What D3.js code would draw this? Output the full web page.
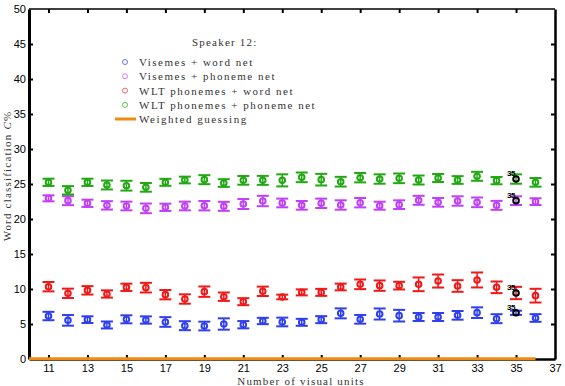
<!DOCTYPE html>
<html lang="en">
<head>
    <meta charset="UTF-8">
    <title>Speaker 12 word classification</title>
    <script src="https://d3js.org/d3.v7.min.js"></script>
    <style>
        body { margin: 0; background: #fff; }
        .tick text { font-family: "Liberation Sans", Arial, sans-serif; font-size: 11px; fill: #000; }
        .serif { font-family: "Liberation Serif", "DejaVu Serif", serif; fill: #333; }
    </style>
</head>
<body>
<div id="chart"></div>
<script>
// x positions (number of visual units)
const units = [11,12,13,14,15,16,17,18,19,20,21,22,23,24,25,26,27,28,29,30,31,32,33,34,35,36];

// means and half error bars
const visWordMean = [6.14,5.52,5.62,4.86,5.67,5.57,5.29,4.76,4.71,5.0,4.9,5.43,5.29,5.24,5.62,6.52,5.67,6.43,6.19,6.0,6.0,6.24,6.62,5.76,6.6,5.86];
const visWordErr  = [0.6,0.76,0.48,0.5,0.57,0.52,0.69,0.64,0.62,0.81,0.52,0.45,0.62,0.5,0.5,0.71,0.62,0.79,0.83,0.57,0.57,0.62,0.76,0.64,0.3,0.55];

const visPhonMean = [22.95,22.62,22.24,21.95,21.86,21.52,21.67,21.86,21.9,21.81,22.14,22.57,22.29,21.95,22.24,22.0,22.33,21.9,22.05,22.67,22.38,22.57,22.38,21.95,22.62,22.48];
const visPhonErr  = [0.43,0.64,0.52,0.6,0.62,0.69,0.52,0.62,0.67,0.64,0.71,0.74,0.62,0.62,0.67,0.67,0.67,0.57,0.62,0.64,0.62,0.67,0.69,0.64,0.62,0.48];

const wltWordMean = [10.33,9.38,9.81,9.29,10.24,10.19,9.19,8.57,9.62,8.9,8.19,9.67,8.86,9.52,9.52,10.29,10.67,10.48,10.48,10.67,11.14,10.43,11.29,10.24,9.43,9.05];
const wltWordErr  = [0.67,0.67,0.6,0.52,0.52,0.69,0.67,0.67,0.74,0.6,0.5,0.67,0.33,0.43,0.5,0.48,0.69,0.74,0.55,0.98,0.93,0.83,1.07,0.83,0.88,0.98];

const wltPhonMean = [25.24,24.1,25.24,24.86,24.76,24.52,25.24,25.57,25.62,25.14,25.52,25.52,25.52,25.95,25.62,25.33,25.9,25.71,25.81,25.57,25.86,25.57,26.1,25.48,25.71,25.24];
const wltPhonErr  = [0.52,0.6,0.52,0.64,0.7,0.62,0.5,0.48,0.64,0.55,0.62,0.64,0.86,0.69,0.83,0.69,0.67,0.67,0.69,0.64,0.57,0.55,0.64,0.52,0.67,0.62];

const guessUnits = [10,11,12,13,14,15,16,17,18,19,20,21,22,23,24,25,26,27,28,29,30,31,32,33,34,35,36];
const guessVals  = [0.05,0.05,0.05,0.05,0.05,0.05,0.05,0.05,0.05,0.05,0.05,0.05,0.05,0.05,0.05,0.05,0.05,0.05,0.05,0.05,0.05,0.05,0.05,0.05,0.05,0.05,0.05];

const xTicks = [11,13,15,17,19,21,23,25,27,29,31,33,35,37];
const yTicks = [0,5,10,15,20,25,30,35,40,45,50];
const highlightUnit = 35;

const seriesNames = ["Visemes + word net", "Visemes + phoneme net", "WLT phonemes + word net", "WLT phonemes + phoneme net"];
const seriesColors = ["#2f3ff0", "#c040f8", "#f01818", "#22a812"];
const legendColors = ["#6a74f4", "#d47af8", "#f46060", "#5cc04c"];

const series = [
    {mean: visWordMean, err: visWordErr},
    {mean: visPhonMean, err: visPhonErr},
    {mean: wltWordMean, err: wltWordErr},
    {mean: wltPhonMean, err: wltPhonErr}
];

const W = 565, H = 386;
const x = d3.scaleLinear().domain([10, 37]).range([29, 555]);
const y = d3.scaleLinear().domain([0, 50]).range([359, 9]);

const svg = d3.select("#chart").append("svg")
    .attr("width", W).attr("height", H);

// top frame line
svg.append("line")
    .attr("x1", x(10)).attr("x2", x(37)).attr("y1", y(50)).attr("y2", y(50))
    .attr("stroke", "#000").attr("stroke-width", 1.5);

// bottom axis
const xAxis = svg.append("g")
    .attr("transform", `translate(0,${y(0)})`)
    .call(d3.axisBottom(x).tickValues(xTicks).tickFormat(d3.format("d"))
        .tickSizeInner(-4).tickSizeOuter(0).tickPadding(5));
xAxis.select(".domain").attr("stroke-width", 2.5);
xAxis.selectAll(".tick line").attr("stroke-width", 2).filter(d => d === 37).remove();

// top ticks
svg.append("g")
    .attr("transform", `translate(0,${y(50)})`)
    .call(d3.axisTop(x).tickValues(xTicks.slice(0, -1)).tickSizeInner(-4).tickSizeOuter(0).tickFormat(""))
    .call(g => g.select(".domain").remove())
    .selectAll(".tick line").attr("stroke-width", 2);

// left axis
const yAxis = svg.append("g")
    .attr("transform", `translate(${x(10)},0)`)
    .call(d3.axisLeft(y).tickValues(yTicks).tickSizeInner(-4).tickSizeOuter(0).tickPadding(3));
yAxis.select(".domain").attr("stroke-width", 3);
yAxis.selectAll(".tick line").attr("stroke-width", 2).filter(d => d === 0 || d === 50).remove();

// right axis
const rAxis = svg.append("g")
    .attr("transform", `translate(${x(37)},0)`)
    .call(d3.axisRight(y).tickValues(yTicks).tickSizeInner(-4).tickSizeOuter(0).tickFormat(""));
rAxis.select(".domain").attr("stroke-width", 2.5);
rAxis.selectAll(".tick line").attr("stroke-width", 2).filter(d => d === 0 || d === 50).remove();

// weighted guessing line
svg.append("path")
    .datum(guessUnits.map((u, i) => [u, guessVals[i]]))
    .attr("fill", "none").attr("stroke", "#f08a10").attr("stroke-width", 3)
    .attr("d", d3.line().x(d => x(d[0])).y(d => y(d[1])));

// error bars and markers
const capHalf = 6;
series.forEach((s, k) => {
    const col = seriesColors[k];
    const g = svg.append("g");
    const pts = units.map((u, i) => ({u, m: s.mean[i], e: s.err[i]}));
    g.selectAll(".v").data(pts).join("line")
        .attr("x1", d => x(d.u)).attr("x2", d => x(d.u))
        .attr("y1", d => y(d.m - d.e)).attr("y2", d => y(d.m + d.e))
        .attr("stroke", col).attr("stroke-width", 1.5);
    g.selectAll(".ct").data(pts).join("line")
        .attr("x1", d => x(d.u) - capHalf).attr("x2", d => x(d.u) + capHalf)
        .attr("y1", d => y(d.m + d.e)).attr("y2", d => y(d.m + d.e))
        .attr("stroke", col).attr("stroke-width", 2);
    g.selectAll(".cb").data(pts).join("line")
        .attr("x1", d => x(d.u) - capHalf).attr("x2", d => x(d.u) + capHalf)
        .attr("y1", d => y(d.m - d.e)).attr("y2", d => y(d.m - d.e))
        .attr("stroke", col).attr("stroke-width", 2);
    g.selectAll("circle").data(pts).join("circle")
        .attr("cx", d => x(d.u)).attr("cy", d => y(d.m)).attr("r", 2.8)
        .attr("fill", "none")
        .attr("stroke", d => d.u === highlightUnit ? "#000" : col)
        .attr("stroke-width", 2);
    // "35" label on highlighted point
    const h = pts.find(d => d.u === highlightUnit);
    svg.append("text")
        .attr("x", x(h.u) - 9).attr("y", y(h.m) - 3)
        .attr("font-family", "Liberation Sans, Arial, sans-serif")
        .attr("font-size", 8).attr("font-weight", "bold").attr("letter-spacing", -0.6)
        .text(highlightUnit);
});

// legend
const lg = svg.append("g");
lg.append("text").attr("class", "serif")
    .attr("x", 192).attr("y", 46).attr("font-size", 11).attr("letter-spacing", 1.2)
    .text("Speaker 12:");
seriesNames.forEach((name, i) => {
    const cy = 62 + i * 14.3;
    lg.append("circle").attr("cx", 125).attr("cy", cy).attr("r", 2.5)
        .attr("fill", "none").attr("stroke", legendColors[i]).attr("stroke-width", 1);
    lg.append("text").attr("class", "serif")
        .attr("x", 139).attr("y", cy + 4).attr("font-size", 11).attr("letter-spacing", 1.5)
        .text(name);
});
lg.append("line").attr("x1", 115).attr("x2", 136).attr("y1", 119).attr("y2", 119)
    .attr("stroke", "#f08a10").attr("stroke-width", 3);
lg.append("text").attr("class", "serif")
    .attr("x", 139).attr("y", 123).attr("font-size", 11).attr("letter-spacing", 1.5)
    .text("Weighted guessing");

// axis titles
svg.append("text").attr("class", "serif")
    .attr("x", 301).attr("y", 385).attr("text-anchor", "middle")
    .attr("font-size", 11).attr("letter-spacing", 1.2)
    .text("Number of visual units");

const yt = svg.append("text").attr("class", "serif")
    .attr("transform", "translate(11,176) rotate(-90)")
    .attr("text-anchor", "middle").attr("font-size", 11).attr("letter-spacing", 1.2);
yt.append("tspan").text("Word classification ");
yt.append("tspan").attr("font-style", "italic").text("C");
yt.append("tspan").text("%");
</script>
</body>
</html>
